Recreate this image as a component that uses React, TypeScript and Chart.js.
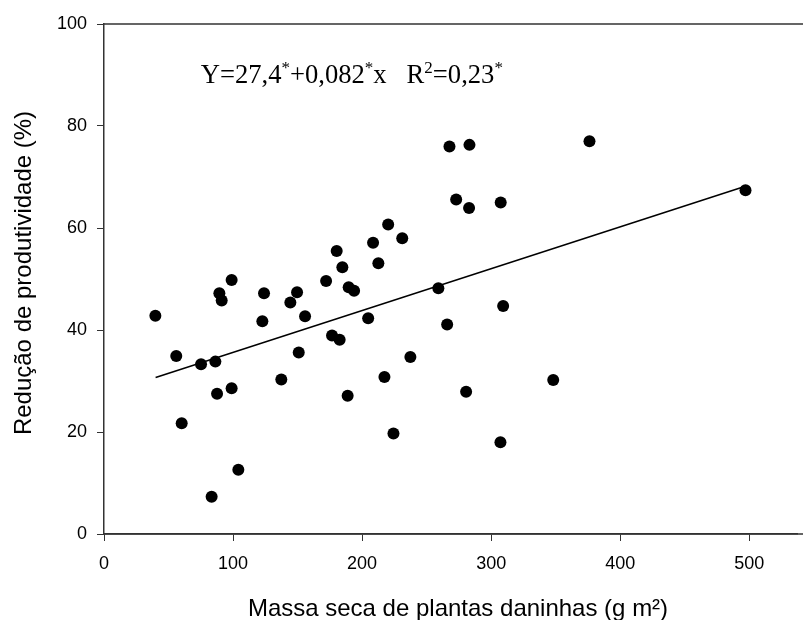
import React, { useEffect, useRef } from "react";
import { Chart, registerables } from "chart.js";

Chart.register(...registerables);

// Massa seca de plantas daninhas (g m-2)
const massaSeca = [
  39.8, 56.0, 60.2, 75.2, 86.3, 87.6, 83.4, 98.9, 104.1, 91.2, 89.4, 98.9,
  122.7, 124.0, 137.4, 144.4, 149.6, 150.9, 155.8, 172.1, 176.7, 182.6, 180.3,
  184.7, 189.6, 193.8, 188.8, 204.7, 208.5, 212.6, 220.2, 217.3, 224.3, 231.1,
  267.7, 283.2, 272.9, 282.9, 307.4, 259.1, 309.3, 265.9, 237.4, 280.6, 348.1,
  307.2, 376.2, 497.1,
];
// Redução de produtividade (%)
const reducao = [
  42.8, 34.9, 21.7, 33.3, 33.8, 27.5, 7.3, 28.6, 12.6, 45.8, 47.2, 49.8,
  41.7, 47.2, 30.3, 45.4, 47.4, 35.6, 42.7, 49.6, 38.9, 38.1, 55.5,
  52.3, 48.4, 47.7, 27.1, 42.3, 57.1, 53.1, 60.7, 30.8, 19.7, 58.0,
  76.0, 76.3, 65.6, 63.9, 65.0, 48.2, 44.7, 41.1, 34.7, 27.9, 30.2,
  18.0, 77.0, 67.4,
];
// Regression line Y = 27,4 + 0,082x endpoints
const fitX = [40, 497];
const fitY = [30.7, 68.2];

const xTicks = [0, 100, 200, 300, 400, 500];
const yTicks = [0, 20, 40, 60, 80, 100];

const xTitle = "Massa seca de plantas daninhas (g m²)";
const yTitle = "Redução de produtividade (%)";

const eqParts = [
  { t: "Y=27,4", sup: false },
  { t: "*", sup: true },
  { t: "+0,082", sup: false },
  { t: "*", sup: true },
  { t: "x   R", sup: false },
  { t: "2", sup: true },
  { t: "=0,23", sup: false },
  { t: "*", sup: true },
];

const SANS = '"Liberation Sans", Arial, sans-serif';
const SERIF = '"Liberation Serif", "Times New Roman", serif';

const extrasPlugin = {
  id: "extras",
  afterDraw(chart: any) {
    const { ctx, chartArea, scales, width } = chart;
    ctx.save();
    // top and bottom frame lines
    ctx.strokeStyle = "#333";
    ctx.lineWidth = 1.5;
    ctx.beginPath();
    ctx.moveTo(chartArea.left, chartArea.top);
    ctx.lineTo(width, chartArea.top);
    ctx.moveTo(chartArea.left, chartArea.bottom);
    ctx.lineTo(width, chartArea.bottom);
    ctx.stroke();
    // equation
    let px = scales.x.getPixelForValue(75);
    const base = scales.y.getPixelForValue(88.5);
    ctx.fillStyle = "#000";
    ctx.textBaseline = "alphabetic";
    ctx.textAlign = "left";
    for (const p of eqParts) {
      ctx.font = p.sup ? `17px ${SERIF}` : `26.6px ${SERIF}`;
      ctx.fillText(p.t, px, p.sup ? base - 10 : base);
      px += ctx.measureText(p.t).width;
    }
    // axis titles
    ctx.font = `24px ${SANS}`;
    ctx.textAlign = "center";
    ctx.textBaseline = "alphabetic";
    ctx.fillText(xTitle, 458, 616);
    ctx.save();
    ctx.translate(24, 273);
    ctx.rotate(-Math.PI / 2);
    ctx.textBaseline = "middle";
    ctx.fillText(yTitle, 0, 0);
    ctx.restore();
    ctx.restore();
  },
};

export default function App() {
  const ref = useRef<HTMLCanvasElement | null>(null);
  useEffect(() => {
    if (!ref.current) return;
    const points = massaSeca.map((x, i) => ({ x, y: reducao[i] }));
    const line = fitX.map((x, i) => ({ x, y: fitY[i] }));
    const chart = new Chart(ref.current, {
      type: "scatter",
      data: {
        datasets: [
          {
            data: points,
            backgroundColor: "#000",
            borderColor: "#000",
            pointRadius: 6,
            pointBorderWidth: 0,
          },
          {
            data: line,
            showLine: true,
            borderColor: "#000",
            borderWidth: 1.5,
            pointRadius: 0,
            fill: false,
          } as any,
        ],
      },
      options: {
        responsive: false,
        animation: false,
        layout: { padding: { top: 24, left: 0, right: 0, bottom: 0 } },
        plugins: { legend: { display: false }, tooltip: { enabled: false } },
        scales: {
          x: {
            type: "linear",
            min: 0,
            max: 537,
            afterFit: (s: any) => {
              s.height = 86;
            },
            afterBuildTicks: (s: any) => {
              s.ticks = xTicks.map((v) => ({ value: v }));
            },
            grid: {
              drawOnChartArea: false,
              drawTicks: true,
              tickLength: 7,
              color: "#333",
              lineWidth: 1,
            },
            border: { color: "#333", width: 1.5 },
            ticks: {
              font: { family: SANS, size: 18 },
              color: "#000",
              padding: 12,
              maxRotation: 0,
            },
            title: { display: false },
          },
          y: {
            type: "linear",
            min: 0,
            max: 100,
            afterFit: (s: any) => {
              s.width = 104;
            },
            afterBuildTicks: (s: any) => {
              s.ticks = yTicks.map((v) => ({ value: v }));
            },
            grid: {
              drawOnChartArea: false,
              drawTicks: true,
              tickLength: 7,
              color: "#333",
              lineWidth: 1,
            },
            border: { color: "#333", width: 1.5 },
            ticks: {
              font: { family: SANS, size: 18 },
              color: "#000",
              padding: 10,
            },
            title: { display: false },
          },
        },
      },
      plugins: [extrasPlugin],
    });
    return () => chart.destroy();
  }, []);
  return (
    <div style={{ position: "absolute", left: 0, top: 0, width: 803, height: 620, background: "#fff" }}>
      <canvas ref={ref} width={803} height={620} />
    </div>
  );
}
